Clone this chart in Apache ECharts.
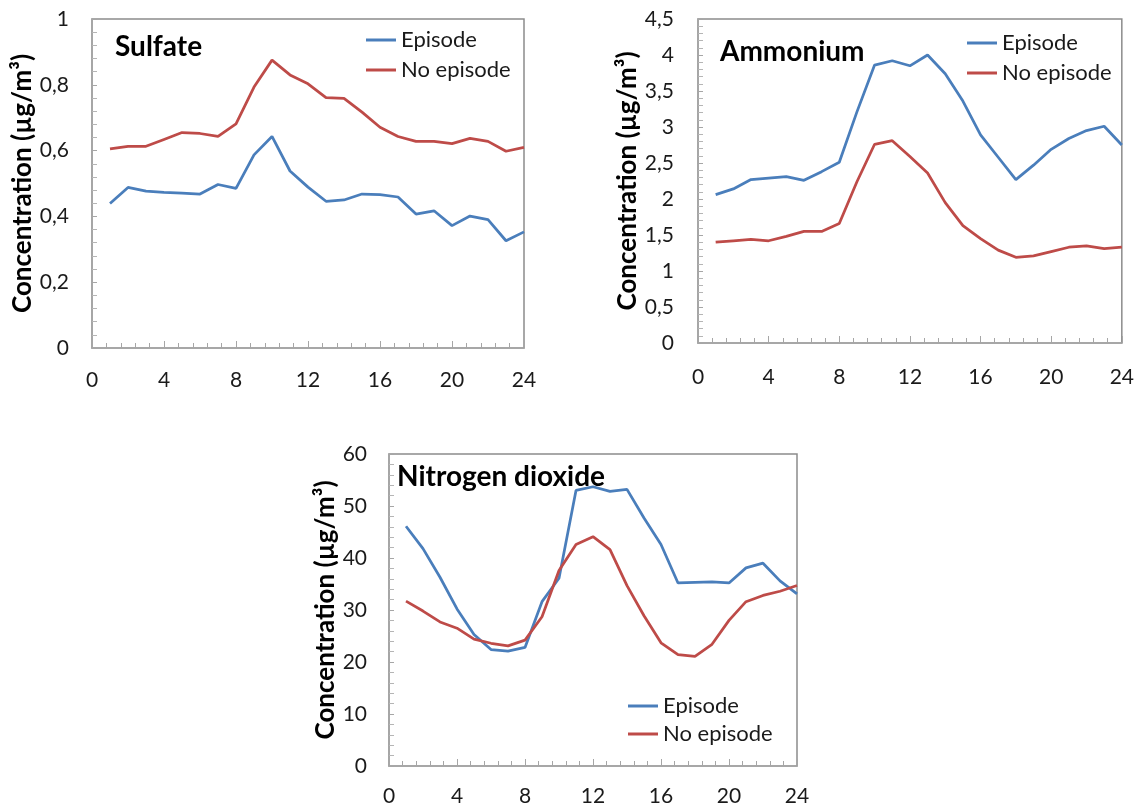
<!DOCTYPE html>
<html>
<head>
<meta charset="utf-8">
<script src="https://cdn.jsdelivr.net/npm/echarts@6/dist/echarts.min.js"></script>
<style>
  html, body { margin: 0; padding: 0; background: #ffffff; }
  #chart { width: 1137px; height: 807px; }
</style>
</head>
<body>
<div id="chart"></div>
<script>
// Hour of day (x values shared by all three panels)
const hours = [1, 2, 3, 4, 5, 6, 7, 8, 9, 10, 11, 12, 13, 14, 15, 16, 17, 18, 19, 20, 21, 22, 23, 24];
const xTicks = [0, 4, 8, 12, 16, 20, 24];

// Sulfate (µg/m³)
const sulfateEpisode   = [0.439, 0.488, 0.477, 0.473, 0.471, 0.468, 0.497, 0.485, 0.587, 0.643, 0.538, 0.489, 0.446, 0.450, 0.468, 0.466, 0.459, 0.407, 0.417, 0.372, 0.401, 0.390, 0.326, 0.353];
const sulfateNoEpisode = [0.605, 0.613, 0.613, 0.634, 0.655, 0.652, 0.643, 0.681, 0.793, 0.875, 0.830, 0.803, 0.761, 0.759, 0.717, 0.671, 0.643, 0.628, 0.628, 0.621, 0.637, 0.628, 0.598, 0.610];

// Ammonium (µg/m³)
const ammoniumEpisode   = [2.06, 2.14, 2.27, 2.29, 2.31, 2.26, 2.38, 2.51, 3.21, 3.86, 3.92, 3.85, 4.00, 3.74, 3.36, 2.89, 2.58, 2.27, 2.47, 2.69, 2.84, 2.95, 3.01, 2.75];
const ammoniumNoEpisode = [1.40, 1.42, 1.44, 1.42, 1.48, 1.55, 1.55, 1.66, 2.24, 2.76, 2.81, 2.59, 2.36, 1.95, 1.63, 1.45, 1.29, 1.19, 1.21, 1.27, 1.33, 1.35, 1.31, 1.33];

// Nitrogen dioxide (µg/m³)
const no2Episode   = [46.1, 41.8, 36.3, 30.2, 25.3, 22.4, 22.1, 22.8, 31.6, 36.1, 53.0, 53.7, 52.8, 53.2, 47.7, 42.6, 35.2, 35.3, 35.4, 35.2, 38.1, 39.0, 35.6, 33.1];
const no2NoEpisode = [31.7, 29.8, 27.7, 26.5, 24.4, 23.6, 23.1, 24.2, 28.7, 37.6, 42.6, 44.1, 41.6, 34.7, 28.9, 23.7, 21.4, 21.1, 23.4, 28.0, 31.6, 32.8, 33.6, 34.7];

const panelTitles = ['Sulfate', 'Ammonium', 'Nitrogen dioxide'];
const seriesNames = ['Episode', 'No episode'];
const yAxisTitle = 'Concentration (µg/m³)';

const FONT = 'Lato, "Open Sans", sans-serif';
const BLUE = '#4a7ebb';
const RED = '#be4b48';

// decimal comma tick labels
function commaLabel(v) {
  return String(+v.toFixed(2)).replace('.', ',');
}

function xAxisFor(gridIndex, margin) {
  return {
    type: 'value', gridIndex, min: 0, max: 24, interval: 4,
    axisLine: { show: true, lineStyle: { color: '#a6a6a6', width: 1.5 } },
    axisTick: { show: true, inside: true, length: 7, lineStyle: { color: '#a6a6a6' } },
    minorTick: { show: true, splitNumber: 5, length: 5, lineStyle: { color: '#a6a6a6' } },
    splitLine: { show: false },
    axisLabel: {
      margin, fontFamily: FONT, fontSize: 21, color: '#1a1a1a',
      formatter: v => xTicks.includes(v) ? String(v) : ''
    }
  };
}

function yAxisFor(gridIndex, max, interval, nameGap, margin) {
  return {
    type: 'value', gridIndex, min: 0, max, interval,
    name: yAxisTitle, nameLocation: 'middle', nameGap,
    nameTextStyle: { fontFamily: FONT, fontWeight: 'bold', fontSize: 26, color: '#000', lineHeight: 26 },
    axisLine: { show: true, lineStyle: { color: '#a6a6a6', width: 1.5 } },
    axisTick: { show: true, inside: true, length: 5, lineStyle: { color: '#a6a6a6' } },
    minorTick: { show: true, splitNumber: 5, length: 5, lineStyle: { color: '#b5b5b5' } },
    splitLine: { show: false },
    axisLabel: { margin, fontFamily: FONT, fontSize: 21, color: '#1a1a1a', formatter: commaLabel }
  };
}

function lineSeries(name, values, color, idx) {
  return {
    name, type: 'line', xAxisIndex: idx, yAxisIndex: idx,
    data: hours.map((h, i) => [h, values[i]]),
    symbol: 'none', smooth: false, animation: false,
    lineStyle: { color, width: 2.75 },
    itemStyle: { color }
  };
}

function legendAt(left, top, gap) {
  return {
    data: seriesNames, orient: 'vertical', left, top, padding: 0,
    itemGap: gap, itemWidth: 30, itemHeight: 3, icon: 'rect',
    textStyle: { fontFamily: FONT, fontSize: 22, color: '#1a1a1a', lineHeight: 24 }
  };
}

function titleAt(text, left, top) {
  return {
    text, left, top, padding: 0,
    textStyle: { fontFamily: FONT, fontWeight: 'bold', fontSize: 28, lineHeight: 30, color: '#000' }
  };
}

const chart = echarts.init(document.getElementById('chart'), null, { renderer: 'canvas' });

chart.setOption({
  animation: false,
  backgroundColor: '#ffffff',
  title: [
    titleAt(panelTitles[0], 115, 32),
    titleAt(panelTitles[1], 720, 37),
    titleAt(panelTitles[2], 397, 462)
  ],
  legend: [
    legendAt(366, 28, 6),
    legendAt(967, 31, 6),
    legendAt(628, 694, 4)
  ],
  grid: [
    { left: 92,  top: 19,  width: 432, height: 329, show: true, borderColor: '#8c8c8c', borderWidth: 1.5 },
    { left: 698, top: 19,  width: 425, height: 324, show: true, borderColor: '#8c8c8c', borderWidth: 1.5 },
    { left: 389, top: 454, width: 408, height: 313, show: true, borderColor: '#8c8c8c', borderWidth: 1.5 }
  ],
  xAxis: [
    xAxisFor(0, 22),
    xAxisFor(1, 24),
    xAxisFor(2, 20)
  ],
  yAxis: [
    yAxisFor(0, 1, 0.2, 53, 23),
    yAxisFor(1, 4.5, 0.5, 55, 24),
    yAxisFor(2, 60, 10, 49, 22)
  ],
  series: [
    lineSeries(seriesNames[0], sulfateEpisode, BLUE, 0),
    lineSeries(seriesNames[1], sulfateNoEpisode, RED, 0),
    lineSeries(seriesNames[0], ammoniumEpisode, BLUE, 1),
    lineSeries(seriesNames[1], ammoniumNoEpisode, RED, 1),
    lineSeries(seriesNames[0], no2Episode, BLUE, 2),
    lineSeries(seriesNames[1], no2NoEpisode, RED, 2)
  ]
});
</script>
</body>
</html>
